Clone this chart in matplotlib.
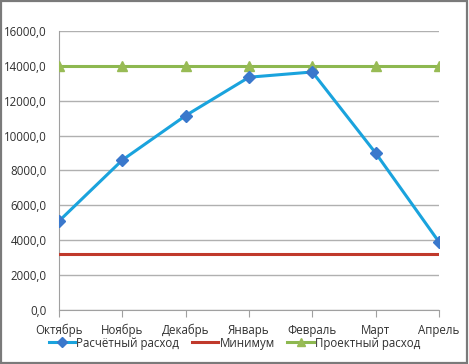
import matplotlib
matplotlib.use("Agg")
import matplotlib.pyplot as plt
from matplotlib.patches import Rectangle

months = ["Октябрь", "Ноябрь", "Декабрь", "Январь", "Февраль", "Март", "Апрель"]
calc_flow = [5100, 8600, 11150, 13350, 13650, 9000, 3900]
minimum = [3200, 3200, 3200, 3200, 3200, 3200, 3200]
project_flow = [14000, 14000, 14000, 14000, 14000, 14000, 14000]
yticks = [0, 2000, 4000, 6000, 8000, 10000, 12000, 14000, 16000]

plt.rcParams['font.family'] = ['Open Sans', 'DejaVu Sans']
fig = plt.figure(figsize=(4.69, 3.64), dpi=100)
ax = fig.add_axes([59/469, 1-310/364, 380/469, 279/364])
x = list(range(len(months)))

ax.plot(x, calc_flow, color='#1aa3dd', lw=2.2, marker='D', ms=6.5,
        mfc='#3a78cc', mec='#3a78cc', label='Расчётный расход', zorder=4)
ax.plot(x, minimum, color='#c0392b', lw=2.2, label='Минимум', zorder=3)
ax.plot(x, project_flow, color='#8db850', lw=2.2, marker='^', ms=7.5,
        mfc='#98bb55', mec='#98bb55', label='Проектный расход', zorder=3)

ax.set_xlim(0, 6)
ax.set_ylim(0, 16000)
ax.set_yticks(yticks)
ax.set_yticklabels([f"{v},0" for v in yticks])
ax.set_xticks(x)
ax.set_xticklabels(months)
ax.grid(axis='y', color='#b0b0b0', lw=1)
ax.set_axisbelow(True)
for s in ['top', 'right']:
    ax.spines[s].set_visible(False)
for s in ['left', 'bottom']:
    ax.spines[s].set_color('#a0a0a0')
ax.tick_params(axis='y', length=0, labelsize=8.3, pad=9)
ax.tick_params(axis='x', length=5, color='#a0a0a0', labelsize=8.3, pad=5)
ax.tick_params(axis='both', labelcolor='#303030')

leg = fig.legend(loc='center', bbox_to_anchor=(0.5, 1-343/364), ncol=3, frameon=False,
                 fontsize=8.3, handlelength=2.3, columnspacing=1.1, handletextpad=0.1,
                 markerscale=0.75)
for t in leg.get_texts():
    t.set_color('#303030')

fig.patches.append(Rectangle((0.002, 0.003), 0.994, 0.994, transform=fig.transFigure,
                             fill=False, ec='#7a7a7a', lw=1.6))
fig.savefig('out.png', dpi=100)
